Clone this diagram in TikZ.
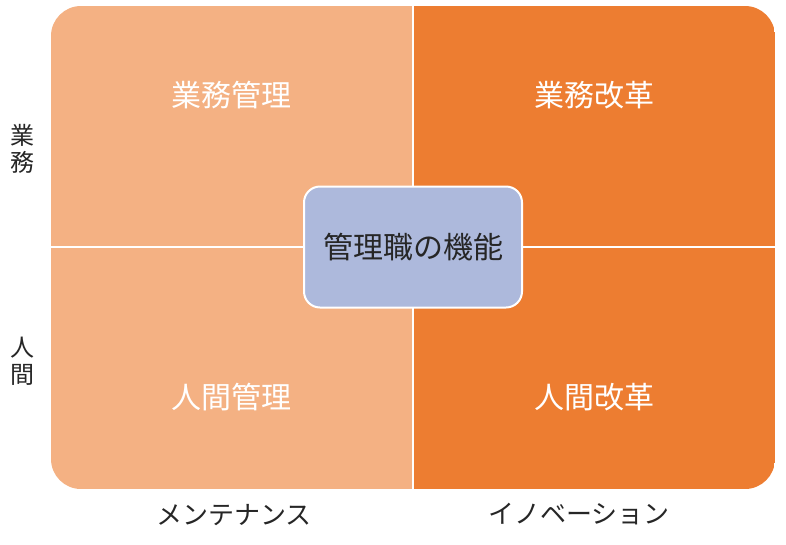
\documentclass[tikz,border=0pt]{standalone}
\usepackage{fontspec}
\setmainfont{Noto Sans CJK JP}
\usetikzlibrary{positioning}
\definecolor{naranjaclaro}{HTML}{F4B183}
\definecolor{naranja}{HTML}{ED7D31}
\definecolor{azulclaro}{HTML}{ADB9DC}
\definecolor{textogris}{HTML}{262626}
\begin{document}
\begin{tikzpicture}[x=1pt,y=-1pt,
	cuadro label/.style={text=white,font=\fontsize{30}{32}\selectfont},
	eje label/.style={text=textogris,font=\fontsize{26}{28}\selectfont,align=center},
	lado label/.style={text=textogris,font=\fontsize{24}{27}\selectfont,align=center},
	centro node/.style={rectangle,rounded corners=16pt,draw=white,line width=2pt,fill=azulclaro,minimum width=218pt,minimum height=121pt,text=textogris,font=\fontsize{30}{32}\selectfont}]
	\useasboundingbox (0,0) rectangle (786,544);
	
	% Definición de los cuadrantes
	\begin{scope}
		\clip[rounded corners=30pt] (51,6) rectangle (775,489);
		\fill[naranjaclaro] (51,6) rectangle (413,489);
		\fill[naranja] (413,6) rectangle (775,489);
	\end{scope}
	\draw[white,line width=2pt] (413,6) -- (413,489);
	\draw[white,line width=2pt] (51,247) -- (775,247);
	
	% Textos de los cuadrantes
	\node[cuadro label] (gestion) at (231,95) {業務管理};
	\node[cuadro label] (reforma) at (594,95) {業務改革};
	\node[cuadro label] (personas) at (231,397) {人間管理};
	\node[cuadro label] (cambio) at (594,397) {人間改革};
	
	% Nodo central
	\node[centro node] (centro) at (413,247) {管理職の機能};
	
	% Ejes
	\node[lado label] (tarea) at (22,149) {業\\務};
	\node[lado label] (gente) at (22,361) {人\\間};
	\node[eje label] (mantenimiento) at (234,515) {メンテナンス};
	\node[eje label] (innovacion) at (579,514) {イノベーション};
\end{tikzpicture}
\end{document}
